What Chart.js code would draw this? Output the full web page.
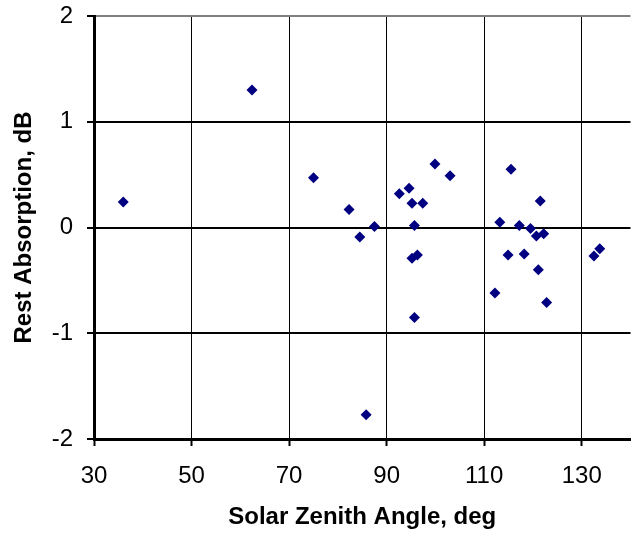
<!DOCTYPE html>
<html>
<head>
<meta charset="utf-8">
<script src="https://cdn.jsdelivr.net/npm/chart.js@4/dist/chart.umd.min.js"></script>
<style>
  html, body { margin: 0; padding: 0; background: #fff; overflow: hidden; }
  #wrap { width: 632px; height: 533px; overflow: hidden; }
</style>
</head>
<body>
<div id="wrap"><canvas id="chart" width="636" height="533"></canvas></div>
<script>
// Solar zenith angle (deg) and rest absorption (dB)
const sza = [36.0, 62.4, 75.0, 82.3, 84.5, 87.5, 85.8, 92.6, 94.6, 95.2,
             97.4, 99.9, 103.0, 95.7, 95.2, 96.3, 95.7, 112.2, 113.2, 114.9,
             115.5, 117.2, 118.2, 119.5, 120.7, 121.1, 121.5, 122.2, 122.8, 132.5,
             133.7];
const restAbs = [0.24, 1.30, 0.47, 0.17, -0.09, 0.01, -1.77, 0.32, 0.37, 0.23,
                 0.23, 0.60, 0.49, 0.02, -0.29, -0.26, -0.85, -0.62, 0.05, -0.26,
                 0.55, 0.02, -0.25, -0.01, -0.08, -0.40, 0.25, -0.06, -0.71, -0.27,
                 -0.20];

const xTicks = [30, 50, 70, 90, 110, 130];
const yTicks = [-2, -1, 0, 1, 2];

const FONT = 'Liberation Sans, Arial, sans-serif';

const points = sza.map((x, i) => ({ x, y: restAbs[i] }));

new Chart(document.getElementById('chart'), {
  type: 'scatter',
  data: {
    datasets: [{
      data: points,
      pointStyle: 'rectRot',
      pointRadius: 5.5,
      pointBackgroundColor: '#000080',
      pointBorderColor: '#000080',
      pointBorderWidth: 0,
    }],
  },
  options: {
    responsive: false,
    animation: false,
    layout: { padding: { top: 16, right: 2, bottom: 0, left: 0 } },
    plugins: {
      legend: { display: false },
      tooltip: { enabled: false },
    },
    scales: {
      x: {
        type: 'linear',
        min: 30,
        max: 140,
        afterBuildTicks: (s) => { s.ticks = xTicks.map((v) => ({ value: v })); },
        afterFit: (s) => { s.height = 94; s.paddingLeft = 0; s.paddingRight = 0; },
        border: { display: true, color: '#000', width: 3 },
        grid: {
          color: '#000',
          lineWidth: 1,
          drawTicks: true,
          tickLength: 7,
          tickColor: '#000',
          tickWidth: 2,
        },
        ticks: {
          color: '#000',
          font: { family: FONT, size: 24 },
          padding: 16,
        },
        title: {
          display: true,
          text: 'Solar Zenith Angle, deg',
          color: '#000',
          font: { family: FONT, size: 24, weight: 'bold' },
          padding: 1,
        },
      },
      y: {
        type: 'linear',
        min: -2,
        max: 2,
        afterBuildTicks: (s) => { s.ticks = yTicks.map((v) => ({ value: v })); },
        afterFit: (s) => { s.width = 94; s.paddingTop = 0; s.paddingBottom = 0; },
        border: { display: true, color: '#000', width: 3 },
        grid: {
          color: (ctx) => (ctx.tick && ctx.tick.value === 2 ? '#808080' : '#000'),
          lineWidth: 2,
          drawTicks: true,
          tickLength: 7,
          tickColor: '#000',
          tickWidth: 2,
        },
        ticks: {
          color: '#000',
          font: { family: FONT, size: 24 },
          padding: 14,
        },
        title: {
          display: true,
          text: 'Rest Absorption, dB',
          color: '#000',
          font: { family: FONT, size: 24, weight: 'bold' },
          padding: 10,
        },
      },
    },
  },
});
</script>
</body>
</html>
